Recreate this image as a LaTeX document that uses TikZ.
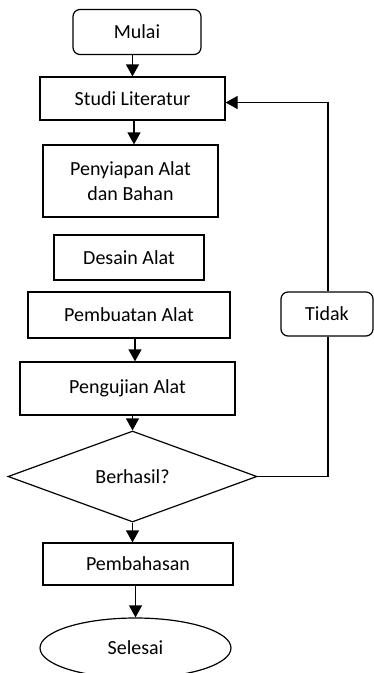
\documentclass[tikz,border=0pt]{standalone}
\usepackage{fontspec}
\setmainfont{Carlito}
\usetikzlibrary{shapes.geometric,arrows.meta}
\tikzset{
  kotak/.style={draw,line width=1.2pt,inner sep=0pt,align=center,font=\fontsize{20}{25}\selectfont},
  bulat/.style={kotak,rounded corners=7pt},
  arr/.style={line width=1.2pt,-{Triangle[length=12pt,width=13pt]}}
}
\begin{document}
\begin{tikzpicture}[x=1pt,y=-1pt]
  \useasboundingbox (0,0) rectangle (373,673);
  \node[bulat,minimum width=128pt,minimum height=45pt] (mulai) at (137,32) {Mulai};
  \node[kotak,minimum width=185pt,minimum height=43pt] (studi) at (132.5,98.5) {Studi Literatur};
  \node[kotak,minimum width=175pt,minimum height=72pt] (siap) at (130.5,181) {Penyiapan Alat\\dan Bahan};
  \node[kotak,minimum width=150pt,minimum height=45pt] (desain) at (129,257.5) {Desain Alat};
  \node[kotak,minimum width=202pt,minimum height=46pt] (buat) at (129,315) {Pembuatan Alat};
  \node[kotak,minimum width=215pt,minimum height=53pt] (uji) at (127.5,388.5) {Pengujian Alat};
  \node[kotak,diamond,aspect=2.74,minimum width=249pt,minimum height=91pt] (cek) at (132.5,476.5) {Berhasil?};
  \node[bulat,minimum width=92pt,minimum height=44pt] (tidak) at (327,314) {Tidak};
  \node[kotak,minimum width=190pt,minimum height=42pt] (bahas) at (138,564) {Pembahasan};
  \node[kotak,ellipse,minimum width=191pt,minimum height=60pt] (selesai) at (135.5,648) {Selesai};
  % alur utama
  \draw[arr] (mulai.south -| studi) -- (studi.north);
  \draw[arr] ([xshift=1.5pt]studi.south) -- ([xshift=1.5pt]studi.south |- siap.north);
  \draw[arr] ([xshift=6pt]buat.south) -- ([xshift=6pt]buat.south |- uji.north);
  \draw[arr] (cek.north |- uji.south) -- (cek.north);
  \draw[arr] (cek.south) -- (cek.south |- bahas.north);
  \draw[arr] (selesai.north |- bahas.south) -- (selesai.north);
  % kembali
  \draw[line width=1.2pt] (cek.east) -| ([xshift=1pt]tidak.south);
  \draw[arr] ([xshift=1pt]tidak.north) |- ([yshift=-4pt]studi.east);
\end{tikzpicture}
\end{document}
